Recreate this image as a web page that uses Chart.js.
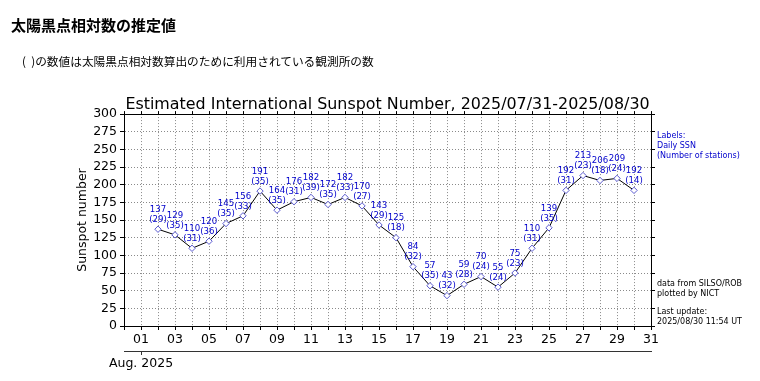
<!DOCTYPE html>
<html>
<head>
<meta charset="utf-8">
<script src="https://cdn.jsdelivr.net/npm/chart.js@4.4.0/dist/chart.umd.min.js"></script>
<style>
    body { margin: 0; background: #fff; }
    #wrap { position: relative; width: 760px; height: 381px; }
    #wrap canvas { position: absolute; left: 0; top: 0; }
    .txt { position: absolute; white-space: nowrap; line-height: 1; }
    .head { left: 11px; top: 14px; font: bold 15px "Noto Sans CJK JP", sans-serif; }
    .sub { left: 22px; top: 52px; font: 11.7px "Noto Sans CJK JP", sans-serif; }
    .note { left: 657px; font: 8px "DejaVu Sans", sans-serif; line-height: 10px; }
    .blue { color: #0000cc; }
</style>
</head>
<body>
<div id="wrap">
    <canvas id="chart" width="760" height="381"></canvas>
    <div class="txt head">太陽黒点相対数の推定値</div>
    <div class="txt sub">(&nbsp;&nbsp;)の数値は太陽黒点相対数算出のために利用されている観測所の数</div>
    <div class="txt note blue" style="top:131px">Labels:<br>Daily SSN<br>(Number of stations)</div>
    <div class="txt note" style="top:279px">data from SILSO/ROB<br>plotted by NICT</div>
    <div class="txt note" style="top:307px">Last update:<br>2025/08/30 11:54 UT</div>
</div>
<script>
// day of August (0 = Jul 31)
const days = [2, 3, 4, 5, 6, 7, 8, 9, 10, 11, 12, 13, 14, 15, 16,
    17, 18, 19, 20, 21, 22, 23, 24, 25, 26, 27, 28, 29, 30];
const ssn = [137, 129, 110, 120, 145, 156, 191, 164, 176, 182, 172, 182, 170, 143, 125,
    84, 57, 43, 59, 70, 55, 75, 110, 139, 192, 213, 206, 209, 192];
const stations = [29, 35, 31, 36, 35, 33, 35, 35, 31, 39, 35, 33, 27, 29, 18,
    32, 35, 32, 28, 24, 24, 23, 31, 35, 31, 23, 18, 24, 14];
const dayTicks = Array.from({ length: 32 }, (_, i) => i);
const ssnTicks = Array.from({ length: 13 }, (_, i) => i * 25);
const monthTick = [1];
const monthLabel = "Aug. 2025";

const FONT = "DejaVu Sans";
const GRID = "#8a8a8a";

// blue two-line labels above each point
const pointLabels = {
    id: "pointLabels",
    afterDatasetsDraw(chart) {
        const ctx = chart.ctx;
        const meta = chart.getDatasetMeta(0);
        ctx.save();
        ctx.fillStyle = "#0000cc";
        ctx.font = "8.6px '" + FONT + "'";
        ctx.textAlign = "center";
        ctx.textBaseline = "middle";
        meta.data.forEach((pt, i) => {
            ctx.fillText(String(ssn[i]), pt.x, pt.y - 19.5);
            ctx.fillText("(" + stations[i] + ")", pt.x, pt.y - 9.5);
        });
        ctx.restore();
    },
};

const tickFont = { family: FONT, size: 12.5 };
const setTicks = (list) => (s) => { s.ticks = list.map((v) => ({ value: v })); };

new Chart(document.getElementById("chart"), {
    type: "line",
    data: {
        datasets: [{
            data: days.map((d, i) => ({ x: d, y: ssn[i] })),
            borderColor: "#000",
            borderWidth: 1,
            tension: 0,
            pointStyle: "rectRot",
            pointRadius: 3.2,
            pointBorderWidth: 1,
            pointBorderColor: "#5a5ad0",
            pointBackgroundColor: "#fff",
        }],
    },
    options: {
        responsive: false,
        animation: false,
        devicePixelRatio: 1,
        layout: { padding: 0 },
        plugins: {
            legend: { display: false },
            tooltip: { enabled: false },
            title: {
                display: true,
                fullSize: false,
                text: "Estimated International Sunspot Number, 2025/07/31-2025/08/30",
                color: "#000",
                font: { family: FONT, size: 15.9, weight: "normal" },
                padding: { top: 95, bottom: 0 },
            },
        },
        scales: {
            x: {
                type: "linear",
                position: "bottom",
                weight: 0,
                min: 0,
                max: 31,
                afterBuildTicks: setTicks(dayTicks),
                afterFit: (s) => { s.height = 25; },
                ticks: {
                    autoSkip: false,
                    maxRotation: 0,
                    padding: 2,
                    color: "#000",
                    font: tickFont,
                    callback: (v) => (v % 2 === 1 ? String(v).padStart(2, "0") : ""),
                },
                grid: { color: GRID, tickColor: "#000", tickLength: 4 },
                border: { color: "#000", width: 1, dash: [1, 2] },
            },
            xMonth: {
                type: "linear",
                position: "bottom",
                weight: 1,
                min: 0,
                max: 31,
                afterBuildTicks: setTicks(monthTick),
                afterFit: (s) => { s.height = 30; },
                ticks: {
                    autoSkip: false,
                    maxRotation: 0,
                    padding: 1,
                    color: "#000",
                    font: tickFont,
                    callback: () => monthLabel,
                },
                grid: { drawOnChartArea: false, tickColor: "#333", tickLength: 4 },
                border: { color: "#333", width: 1 },
            },
            xTop: {
                type: "linear",
                position: "top",
                min: 0,
                max: 31,
                afterBuildTicks: setTicks(dayTicks),
                afterFit: (s) => { s.height = 0; },
                ticks: { display: false },
                grid: { drawOnChartArea: false, tickColor: "#000", tickLength: 3 },
                border: { color: "#000", width: 1 },
            },
            y: {
                position: "left",
                min: 0,
                max: 300,
                afterBuildTicks: setTicks(ssnTicks),
                afterFit: (s) => { s.width = 124; },
                ticks: { autoSkip: false, padding: 3, color: "#000", font: tickFont },
                grid: { color: GRID, tickColor: "#000", tickLength: 4 },
                border: { color: "#000", width: 1, dash: [1, 2] },
                title: {
                    display: true,
                    text: "Sunspot number",
                    color: "#000",
                    font: tickFont,
                    padding: { top: 75, bottom: 0 },
                },
            },
            yRight: {
                position: "right",
                min: 0,
                max: 300,
                afterBuildTicks: setTicks(ssnTicks),
                afterFit: (s) => { s.width = 109; },
                ticks: { autoSkip: false, callback: () => "" },
                grid: { drawOnChartArea: false, tickColor: "#000", tickLength: 4 },
                border: { color: "#000", width: 1 },
            },
        },
    },
    plugins: [pointLabels],
});
</script>
</body>
</html>
